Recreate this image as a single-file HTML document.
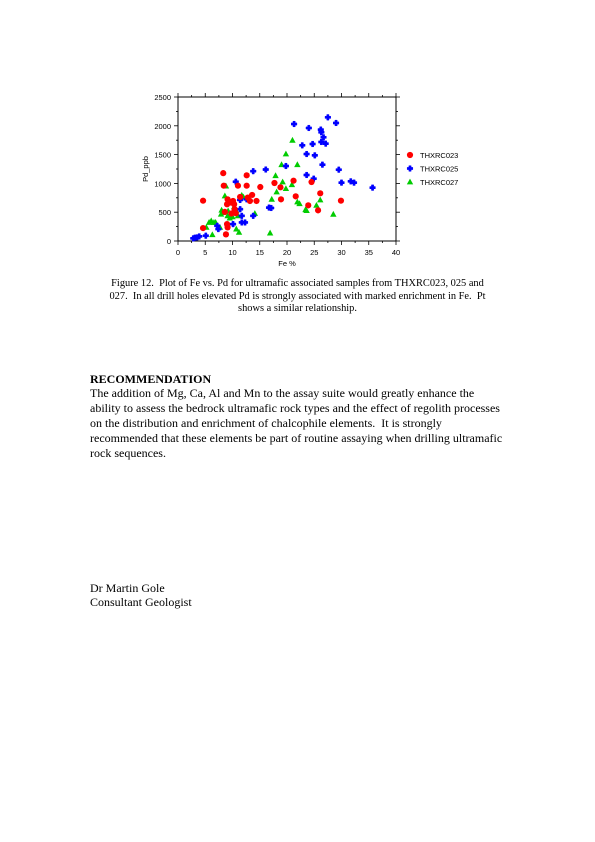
<!DOCTYPE html>
<html><head><meta charset="utf-8"><style>
body{margin:0;background:#fff;width:595px;height:842px;position:relative;overflow:hidden;font-family:"Liberation Serif",serif;}
.t{position:absolute;white-space:nowrap;color:#000;}
.cap{font-size:10.4px;left:0;width:595px;text-align:center;}
.body{font-size:12px;left:90px;}
</style></head><body>
<svg id="chart" width="595" height="280" style="position:absolute;left:0;top:0" font-family="Liberation Sans, sans-serif"></svg>
<div class="t cap" style="top:278px">Figure 12.&nbsp; Plot of Fe vs. Pd for ultramafic associated samples from THXRC023, 025 and</div>
<div class="t cap" style="top:290.5px">027.&nbsp; In all drill holes elevated Pd is strongly associated with marked enrichment in Fe.&nbsp; Pt</div>
<div class="t cap" style="top:303px">shows a similar relationship.</div>
<div class="t body" style="top:372px;font-weight:bold">RECOMMENDATION</div>
<div class="t body" style="top:386px">The addition of Mg, Ca, Al and Mn to the assay suite would greatly enhance the<br>ability to assess the bedrock ultramafic rock types and the effect of regolith processes<br>on the distribution and enrichment of chalcophile elements.&nbsp; It is strongly<br>recommended that these elements be part of routine assaying when drilling ultramafic<br>rock sequences.</div>
<div class="t body" style="top:581px;line-height:14px">Dr Martin Gole<br>Consultant Geologist</div>
<script>
const xTicks=[0,5,10,15,20,25,30,35,40];
const yTicks=[0,500,1000,1500,2000,2500];
const redFe=[4.6,4.6,8.3,8.4,9.1,9.0,8.6,8.8,9.0,9.1,9.6,10.1,10.3,10.4,10.6,9.8,11.0,12.6,12.6,11.4,12.8,13.2,13.6,14.4,15.1,17.7,18.8,18.9,21.2,21.6,23.9,24.5,25.7,26.1,29.9];
const redPd=[224,700,1178,960,724,638,505,115,293,236,667,695,638,552,483,477,960,1140,960,764,753,695,800,695,937,1007,932,723,1047,775,619,1024,532,828,700];
const blueFe=[2.8,3.1,3.5,3.9,5.1,7.4,7.2,10.1,10.6,11.4,11.4,11.7,11.7,12.3,12.6,13.8,16.1,16.7,13.8,21.3,24.0,27.5,29.0,26.2,26.3,26.7,26.3,27.1,22.8,24.7,23.6,25.1,19.8,26.5,29.5,23.6,24.9,30.0,31.7,32.3,35.7,17.1];
const bluePd=[46,57,63,80,92,207,264,293,1029,713,552,437,322,322,724,1212,1241,580,437,2031,1962,2147,2049,1934,1887,1800,1719,1690,1661,1684,1510,1487,1302,1325,1238,1146,1082,1013,1036,1013,926,573];
const greenFe=[6.3,5.2,5.7,6.1,6.6,6.9,7.7,7.9,8.2,8.0,8.6,8.8,9.1,9.2,9.5,10.0,10.3,10.7,11.0,10.7,11.2,11.7,12.0,14.1,16.9,17.9,17.2,19.0,21.0,19.8,21.9,19.2,19.8,20.9,18.1,21.9,22.3,23.4,23.6,25.4,26.1,28.5];
const greenPd=[109,236,322,350,322,322,236,465,494,535,782,954,437,523,397,420,592,523,437,207,150,793,764,477,138,1134,724,1325,1748,1510,1325,1024,909,978,851,677,648,544,527,619,712,463];
const seriesNames=["THXRC023","THXRC025","THXRC027"];
const NS="http://www.w3.org/2000/svg";
const svg=document.getElementById('chart');
const L=178,R=396,T=97,B=241;
const xs=v=>L+(v/40)*(R-L), ys=v=>B-(v/2500)*(B-T);
function mk(tag,at,parent){const e=document.createElementNS(NS,tag);for(const k in at)e.setAttribute(k,at[k]);(parent||svg).appendChild(e);return e;}
const frame=mk('rect',{x:L,y:T,width:R-L,height:B-T,fill:'none',stroke:'#000','stroke-width':1});


for(let v=0;v<=40;v+=2.5){const x=xs(v),len=(v%5===0)?4:2;
 mk('line',{x1:x,y1:B,x2:x,y2:B+len,stroke:'#000','stroke-width':0.8});
 mk('line',{x1:x,y1:T,x2:x,y2:T-len,stroke:'#000','stroke-width':0.8});}
for(let v=0;v<=2500;v+=250){const y=ys(v),len=(v%500===0)?4:2;
 mk('line',{x1:L,y1:y,x2:L-len,y2:y,stroke:'#000','stroke-width':0.8});
 mk('line',{x1:R,y1:y,x2:R+len,y2:y,stroke:'#000','stroke-width':0.8});}
xTicks.forEach(v=>{const t=mk('text',{x:xs(v),y:B+14,'font-size':7.5,'text-anchor':'middle'});t.textContent=v;

});
yTicks.forEach(v=>{const t=mk('text',{x:L-7,y:ys(v)+3,'font-size':7.5,'text-anchor':'end'});t.textContent=v;

});
const xt=mk('text',{x:287,y:266,'font-size':7.5,'text-anchor':'middle'});xt.textContent='Fe %';


const yt=mk('text',{x:0,y:0,'font-size':7.5,'text-anchor':'middle',transform:'translate(148,169) rotate(-90)'});yt.textContent='Pd_ppb';


function red(x,y){return mk('circle',{cx:x,cy:y,r:3.1,fill:'#f00'});}
function blue(x,y){return mk('path',{d:`M${x-2.8},${y-1.1}h1.7v-1.7h2.2v1.7h1.7v2.2h-1.7v1.7h-2.2v-1.7h-1.7z`,fill:'#00f',stroke:'#00f','stroke-width':0.5,'stroke-linejoin':'round'});}
function green(x,y){return mk('path',{d:`M${x},${y-3.4}L${x+3.2},${y+2.4}L${x-3.2},${y+2.4}z`,fill:'#0c0'});}
greenFe.forEach((v,i)=>{const e=green(xs(v),ys(greenPd[i]));

});
blueFe.forEach((v,i)=>{const e=blue(xs(v),ys(bluePd[i]));

});
redFe.forEach((v,i)=>{const e=red(xs(v),ys(redPd[i]));

});
const fns=[red,blue,green];
seriesNames.forEach((n,i)=>{const y=155+i*13.5;const m=fns[i](410,y);


const t=mk('text',{x:420,y:y+3,'font-size':7.5});t.textContent=n;

});
</script>
</body></html>
